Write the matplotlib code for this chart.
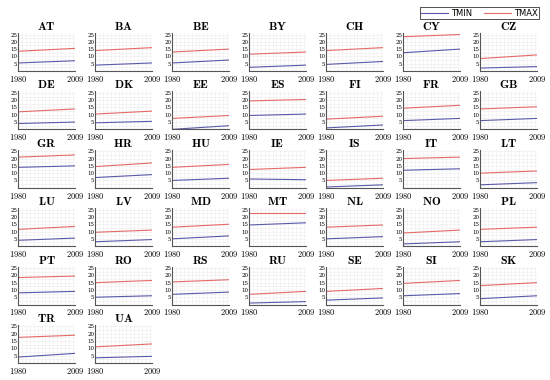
import numpy as np
import matplotlib
matplotlib.use('Agg')
import matplotlib.pyplot as plt
from matplotlib.ticker import FuncFormatter, MultipleLocator

countries = ['AT', 'BA', 'BE', 'BY', 'CH', 'CY', 'CZ',
             'DE', 'DK', 'EE', 'ES', 'FI', 'FR', 'GB',
             'GR', 'HR', 'HU', 'IE', 'IS', 'IT', 'LT',
             'LU', 'LV', 'MD', 'MT', 'NL', 'NO', 'PL',
             'PT', 'RO', 'RS', 'RU', 'SE', 'SI', 'SK',
             'TR', 'UA']
years = [1980, 2009]
tmin_start = [5.5, 4.0, 5.5, 2.5, 4.5, 12.5, 2.0,
              4.0, 4.5, 0.0, 9.5, 1.0, 6.0, 6.0,
              14.0, 7.0, 5.0, 6.0, 0.5, 12.0, 2.0,
              4.0, 3.0, 5.0, 14.5, 5.0, 1.5, 3.0,
              8.0, 5.0, 7.0, 1.0, 3.0, 6.0, 4.0,
              4.0, 3.5]
tmin_end = [7.0, 5.5, 7.5, 4.0, 6.5, 15.0, 3.0,
            5.0, 5.5, 2.5, 10.5, 3.0, 7.5, 7.5,
            15.0, 9.0, 6.5, 5.5, 2.0, 13.0, 3.5,
            5.5, 4.5, 7.0, 16.0, 6.5, 3.0, 4.5,
            9.0, 6.0, 8.5, 2.0, 4.5, 7.5, 6.0,
            6.5, 4.5]
tmax_start = [13.5, 14.0, 13.0, 11.5, 14.0, 23.5, 8.5,
              12.0, 10.5, 7.5, 19.5, 7.0, 14.5, 14.0,
              21.0, 14.5, 14.0, 12.5, 5.0, 20.0, 10.0,
              11.5, 9.5, 13.0, 22.5, 13.0, 9.0, 11.5,
              18.5, 15.0, 15.5, 7.0, 9.0, 14.5, 13.0,
              17.5, 11.0]
tmax_end = [15.5, 16.0, 15.0, 13.0, 16.0, 25.0, 11.0,
            14.0, 12.5, 9.5, 20.5, 9.0, 16.5, 15.5,
            22.5, 17.0, 16.0, 14.0, 6.5, 21.0, 11.5,
            13.5, 11.0, 15.0, 22.5, 14.5, 11.0, 13.0,
            19.5, 16.5, 17.0, 9.0, 11.0, 16.5, 15.0,
            19.0, 13.0]
yticks = [5, 10, 15, 20, 25]

plt.rcParams['mathtext.fontset'] = 'cm'
plt.rcParams['font.family'] = 'serif'
plt.rcParams['font.serif'] = ['DejaVu Serif']

blue = '#5a5aa8'
red = '#e46a6a'

fig, axs = plt.subplots(6, 7, figsize=(5.5, 3.8), dpi=100)
fig.subplots_adjust(left=0.033, right=0.976, top=0.913, bottom=0.045,
                    wspace=0.36, hspace=0.54)

xfmt = FuncFormatter(lambda v, p: '$%d$' % v)

for i, ax in enumerate(axs.flat):
    if i >= len(countries):
        ax.set_visible(False)
        continue
    l1, = ax.plot(years, [tmin_start[i], tmin_end[i]], color=blue, lw=0.8)
    l2, = ax.plot(years, [tmax_start[i], tmax_end[i]], color=red, lw=0.8)
    ax.set_xlim(1980, 2009)
    ax.set_ylim(0, 26)
    ax.set_xticks(years)
    ax.set_yticks(yticks)
    ax.xaxis.set_major_formatter(xfmt)
    ax.xaxis.set_minor_locator(MultipleLocator(2))
    ax.yaxis.set_minor_locator(MultipleLocator(2.5))
    ax.grid(which='both', color='#ececec', lw=0.4)
    ax.set_axisbelow(True)
    ax.tick_params(which='both', length=0)
    ax.tick_params(axis='x', labelsize=6, pad=2)
    ax.tick_params(axis='y', labelsize=4, pad=0.5)
    for s in ['top', 'right']:
        ax.spines[s].set_visible(False)
    for s in ['left', 'bottom']:
        ax.spines[s].set_color('#555555')
        ax.spines[s].set_linewidth(0.8)
    ax.set_title(r'$\mathbf{%s}$' % countries[i], fontsize=8.5, pad=2)

leg = fig.legend([l1, l2], ['TMIN', 'TMAX'], loc='upper right',
                 bbox_to_anchor=(0.985, 0.987), ncol=2,
                 prop={'family': 'DejaVu Sans', 'size': 6},
                 handlelength=3.2, columnspacing=1.4, handletextpad=0.4,
                 fancybox=False, edgecolor='black', borderpad=0.15,
                 borderaxespad=0.3)
leg.get_frame().set_linewidth(0.6)

fig.savefig('out.png', dpi=100)
